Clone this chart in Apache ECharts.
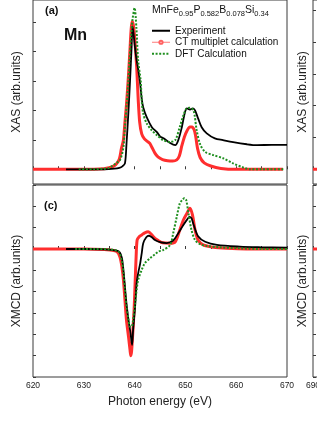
<!DOCTYPE html>
<html><head><meta charset="utf-8">
<script src="https://cdn.jsdelivr.net/npm/echarts@6/dist/echarts.min.js"></script>
<style>html,body{margin:0;padding:0;background:#fff}#c{width:317px;height:427px}</style>
</head><body><div id="c"></div>
<script>
const FONT = "'Liberation Sans', Arial, sans-serif";

// ---------- XAS (panel a) ----------
const xasExpE = [626.5, 630, 634, 636, 637, 637.6, 638.1, 638.4, 638.8, 639.1, 639.4, 639.6, 639.8, 640.1, 640.4, 640.7, 641.1, 641.4, 641.7, 642.4, 643.4, 644.4, 645.0, 645.7, 647.0, 648.0, 648.6, 649.3, 649.9, 650.3, 650.9, 651.5, 651.9, 652.5, 653.2, 654.2, 655.8, 657.4, 659.4, 662.1, 664.1, 667, 670];
const xasExpV = [0, 0, 0, 0.02, 0.05, 0.1, 0.2, 0.85, 2.0, 3.0, 4.1, 4.85, 4.6, 4.1, 3.7, 3.4, 2.9, 2.4, 2.1, 1.76, 1.43, 1.26, 1.12, 1.05, 0.89, 0.82, 0.99, 1.43, 1.93, 2.07, 2.03, 2.07, 2.0, 1.73, 1.43, 1.22, 1.05, 0.99, 0.92, 0.85, 0.82, 0.83, 0.83];

const xasCtE = [620, 625, 630, 634, 635, 635.5, 636, 636.5, 637, 637.4, 637.8, 638.1, 638.4, 638.8, 639.1, 639.3, 639.5, 639.75, 640.0, 640.4, 640.7, 641.0, 641.4, 641.9, 642.5, 643.0, 643.4, 644.0, 644.6, 645.5, 646.5, 647.5, 648.3, 648.8, 649.3, 649.8, 650.3, 650.9, 651.3, 651.7, 652.0, 652.4, 652.9, 653.7, 655, 657, 660, 665, 669.2];
const xasCtV = [0, 0, 0, 0.02, 0.05, 0.08, 0.12, 0.2, 0.35, 0.7, 1.0, 1.6, 2.2, 3.2, 4.1, 4.7, 5.02, 4.9, 4.5, 3.5, 2.4, 1.6, 1.2, 1.04, 0.95, 0.88, 0.75, 0.55, 0.42, 0.33, 0.29, 0.28, 0.32, 0.45, 0.8, 1.1, 1.3, 1.44, 1.44, 1.35, 1.15, 0.7, 0.4, 0.22, 0.11, 0.03, 0, 0, 0];

const xasDftE = [629, 632, 634, 635, 635.8, 636.5, 637.1, 637.5, 637.8, 638.1, 638.6, 639.0, 639.3, 639.6, 640.0, 640.35, 640.7, 641.2, 641.4, 641.7, 642.4, 643.4, 644.4, 645.6, 647.0, 648.0, 648.9, 649.6, 650.2, 650.8, 651.6, 652.2, 652.9, 653.9, 655.5, 657.5, 659.4, 661.4, 662.7, 665, 669.5];
const xasDftV = [0, 0, 0.02, 0.05, 0.14, 0.22, 0.31, 0.5, 0.76, 1.44, 2.56, 3.69, 4.5, 5.1, 5.48, 4.8, 3.69, 3.0, 2.34, 1.89, 1.55, 1.32, 1.16, 0.99, 0.93, 0.99, 1.44, 1.83, 2.06, 2.09, 2.0, 1.35, 0.85, 0.59, 0.48, 0.37, 0.2, 0.06, 0, 0, 0];

// ---------- XMCD (panel c) ----------
const xmcdExpE = [626.5, 630, 634, 636.5, 637.1, 637.5, 637.8, 638.1, 638.4, 638.8, 639.2, 639.5, 639.7, 640.1, 640.4, 640.7, 641.1, 641.4, 641.7, 642.3, 642.8, 643.4, 644.0, 645.0, 646.3, 647.6, 648.6, 649.6, 650.4, 650.8, 651.2, 651.6, 652.5, 653.9, 656.2, 660.7, 665, 670];
const xmcdExpV = [0, 0, -0.02, -0.08, -0.17, -0.42, -0.98, -1.77, -2.55, -3.33, -3.95, -4.5, -3.8, -2.7, -1.6, -1.14, -0.67, -0.2, 0.27, 0.55, 0.62, 0.55, 0.42, 0.32, 0.28, 0.4, 0.74, 1.13, 1.4, 1.5, 1.45, 1.15, 0.6, 0.34, 0.19, 0.11, 0.08, 0.06];

const xmcdCtE = [620, 625, 630, 634, 635.2, 636.5, 637.1, 637.5, 637.8, 638.1, 638.4, 638.8, 639.1, 639.25, 639.4, 639.6, 639.9, 640.1, 640.3, 640.5, 640.9, 641.4, 642.0, 642.7, 643.4, 644.0, 644.7, 645.5, 647.0, 648.0, 648.9, 649.6, 650.3, 650.9, 651.4, 651.9, 652.5, 653.5, 655.5, 658.1, 662, 666, 670];
const xmcdCtV = [0, 0, 0, -0.02, -0.05, -0.12, -0.36, -0.83, -1.45, -2.39, -3.33, -4.11, -4.73, -5.0, -4.81, -4.11, -2.86, -1.61, -0.36, 0.42, 0.58, 0.66, 0.76, 0.81, 0.66, 0.5, 0.39, 0.29, 0.27, 0.34, 0.89, 1.36, 1.67, 1.91, 1.59, 0.89, 0.42, 0.19, 0.08, 0.03, 0, 0, 0];

const xmcdDftE = [628.3, 632, 635, 636.8, 637.5, 637.8, 638.1, 638.4, 638.8, 639.1, 639.4, 639.7, 640.1, 640.4, 640.7, 641.4, 642.0, 643.0, 644.0, 644.7, 645.6, 647.0, 647.6, 648.3, 648.9, 649.4, 649.8, 650.15, 650.6, 651.2, 651.9, 652.9, 654.2, 656.8, 660.7, 665, 670];
const xmcdDftV = [0, 0, -0.02, -0.12, -0.59, -1.14, -1.92, -2.7, -3.33, -3.64, -3.64, -3.33, -2.55, -1.92, -1.45, -0.98, -0.67, -0.44, -0.25, -0.12, -0.05, 0.19, 0.74, 1.51, 2.14, 2.3, 2.38, 2.3, 1.67, 0.89, 0.42, 0.23, 0.14, 0.08, 0.03, 0, 0];

// ---------- right (cropped) panel: only the red baseline stubs are visible ----------
const rightE = [690, 700];
const rightXasV = [0, 0];
const rightXmcdV = [0, 0];

// ---------- ticks / labels ----------
const xasTicks = [0, 1, 2, 3, 4, 5];
const rightXasTicks = [0, 1, 2, 3, 4, 5];
const NAME_EXP = 'Experiment';
const NAME_CT = 'CT multiplet calculation';
const NAME_DFT = 'DFT Calculation';

const pairs = (e, v) => e.map((x, i) => [x, v[i]]);

const RED = '#ff2e2e', GREEN = '#1f8f1f', BLACK = '#000';
const AX = '#3a3a3a';

function xAx(gi, min, max, showLabel, name) {
  return {
    gridIndex: gi, type: 'value', min: min, max: max, interval: 5,
    axisLine: { show: false },
    axisTick: { show: true, inside: true, length: 3, lineStyle: { color: AX, width: 1 } },
    axisLabel: { show: showLabel, margin: 4, fontSize: 8.5, fontFamily: FONT, color: '#222',
      formatter: v => (v % 10 === 0 ? String(v) : '') },
    splitLine: { show: false },
    name: name || '', nameLocation: 'middle', nameGap: 19,
    nameTextStyle: { fontSize: 12, fontFamily: FONT, color: '#222' }
  };
}
function yAx(gi, min, max, opts, name, gap) {
  return Object.assign({
    gridIndex: gi, type: 'value', min: min, max: max,
    axisLine: { show: false },
    axisLabel: { show: false },
    splitLine: { show: false },
    name: name, nameLocation: 'middle', nameGap: gap,
    nameTextStyle: { fontSize: 12, fontFamily: FONT, color: '#222' }
  }, opts);
}
const tickStyle = { show: true, inside: true, length: 3, lineStyle: { color: AX, width: 1 } };

function line(name, xi, data, kind) {
  const s = { name: name, type: 'line', xAxisIndex: xi, yAxisIndex: xi, data: data,
    smooth: 0.3, animation: false, silent: true };
  if (kind === 'ct') {
    Object.assign(s, { symbol: 'emptyCircle', symbolSize: 4, showSymbol: false, z: 2,
      lineStyle: { color: RED, width: 3 }, itemStyle: { color: RED } });
  } else if (kind === 'exp') {
    Object.assign(s, { symbol: 'none', z: 3, lineStyle: { color: BLACK, width: 1.8 }, itemStyle: { color: BLACK } });
  } else {
    Object.assign(s, { symbol: 'none', z: 4, lineStyle: { color: GREEN, width: 2, type: [2, 1.6] }, itemStyle: { color: GREEN } });
  }
  return s;
}

const gridBase = { show: true, borderColor: AX, borderWidth: 1, backgroundColor: 'transparent' };

const option = {
  backgroundColor: '#fff',
  animation: false,
  grid: [
    Object.assign({ left: 33, top: -1, width: 254, height: 185 }, gridBase),
    Object.assign({ left: 33, top: 185, width: 254, height: 192 }, gridBase),
    Object.assign({ left: 313, top: -1, width: 254, height: 185 }, gridBase),
    Object.assign({ left: 313, top: 185, width: 254, height: 192 }, gridBase)
  ],
  xAxis: [
    xAx(0, 620, 670, false),
    xAx(1, 620, 670, true, 'Photon energy (eV)'),
    xAx(2, 690, 740, false),
    xAx(3, 690, 740, true)
  ],
  yAxis: [
    yAx(0, -0.5, 5.75, { axisTick: Object.assign({ customValues: xasTicks }, tickStyle) }, 'XAS (arb.units)', 10),
    yAx(1, -6, 3, { interval: 1, axisTick: tickStyle }, 'XMCD (arb.units)', 10),
    yAx(2, -0.4625, 5.32, { axisTick: Object.assign({ customValues: rightXasTicks }, tickStyle) }, 'XAS (arb.units)', 4),
    yAx(3, -6, 3, { interval: 1, axisTick: tickStyle }, 'XMCD (arb.units)', 4)
  ],
  legend: {
    orient: 'vertical', left: 151, top: 25, padding: 0,
    itemWidth: 18, itemHeight: 4, itemGap: 0, selectedMode: false,
    textStyle: { fontSize: 10, fontFamily: FONT, color: '#111', lineHeight: 11.5 },
    data: [
      { name: NAME_EXP, itemStyle: { opacity: 0 }, lineStyle: { width: 2, color: BLACK } },
      { name: NAME_CT, lineStyle: { width: 1, color: '#ff7b7b' }, itemStyle: { color: '#ff6060', borderColor: '#ff6060' } },
      { name: NAME_DFT, itemStyle: { opacity: 0 }, lineStyle: { width: 2, color: GREEN, type: [2, 1.6] } }
    ]
  },
  series: [
    line(NAME_CT, 0, pairs(xasCtE, xasCtV), 'ct'),
    line(NAME_EXP, 0, pairs(xasExpE, xasExpV), 'exp'),
    line(NAME_DFT, 0, pairs(xasDftE, xasDftV), 'dft'),
    line(NAME_CT, 1, pairs(xmcdCtE, xmcdCtV), 'ct'),
    line(NAME_EXP, 1, pairs(xmcdExpE, xmcdExpV), 'exp'),
    line(NAME_DFT, 1, pairs(xmcdDftE, xmcdDftV), 'dft'),
    line(NAME_CT, 2, pairs(rightE, rightXasV), 'ct'),
    line(NAME_CT, 3, pairs(rightE, rightXmcdV), 'ct')
  ],
  graphic: [
    { type: 'text', left: 152, top: 5, silent: true,
      style: {
        text: '{m|MnFe}{s|0.95}{m|P}{s|0.582}{m|B}{s|0.078}{m|Si}{s|0.34}',
        rich: {
          m: { fontSize: 10.5, fontFamily: FONT, fill: '#111', lineHeight: 12, verticalAlign: 'top' },
          s: { fontSize: 7.5, fontFamily: FONT, fill: '#111', lineHeight: 8, padding: [5, 0, 0, 0], verticalAlign: 'top' }
        }
      } },
    { type: 'text', left: 45, top: 5, silent: true,
      style: { text: '(a)', font: 'bold 11px ' + FONT, fill: '#111' } },
    { type: 'text', left: 64, top: 28, silent: true,
      style: { text: 'Mn', font: 'bold 16px ' + FONT, fill: '#111' } },
    { type: 'text', left: 44, top: 200, silent: true,
      style: { text: '(c)', font: 'bold 11px ' + FONT, fill: '#111' } }
  ]
};

const chart = echarts.init(document.getElementById('c'), null, { renderer: 'canvas' });
chart.setOption(option);
</script>
</body></html>
